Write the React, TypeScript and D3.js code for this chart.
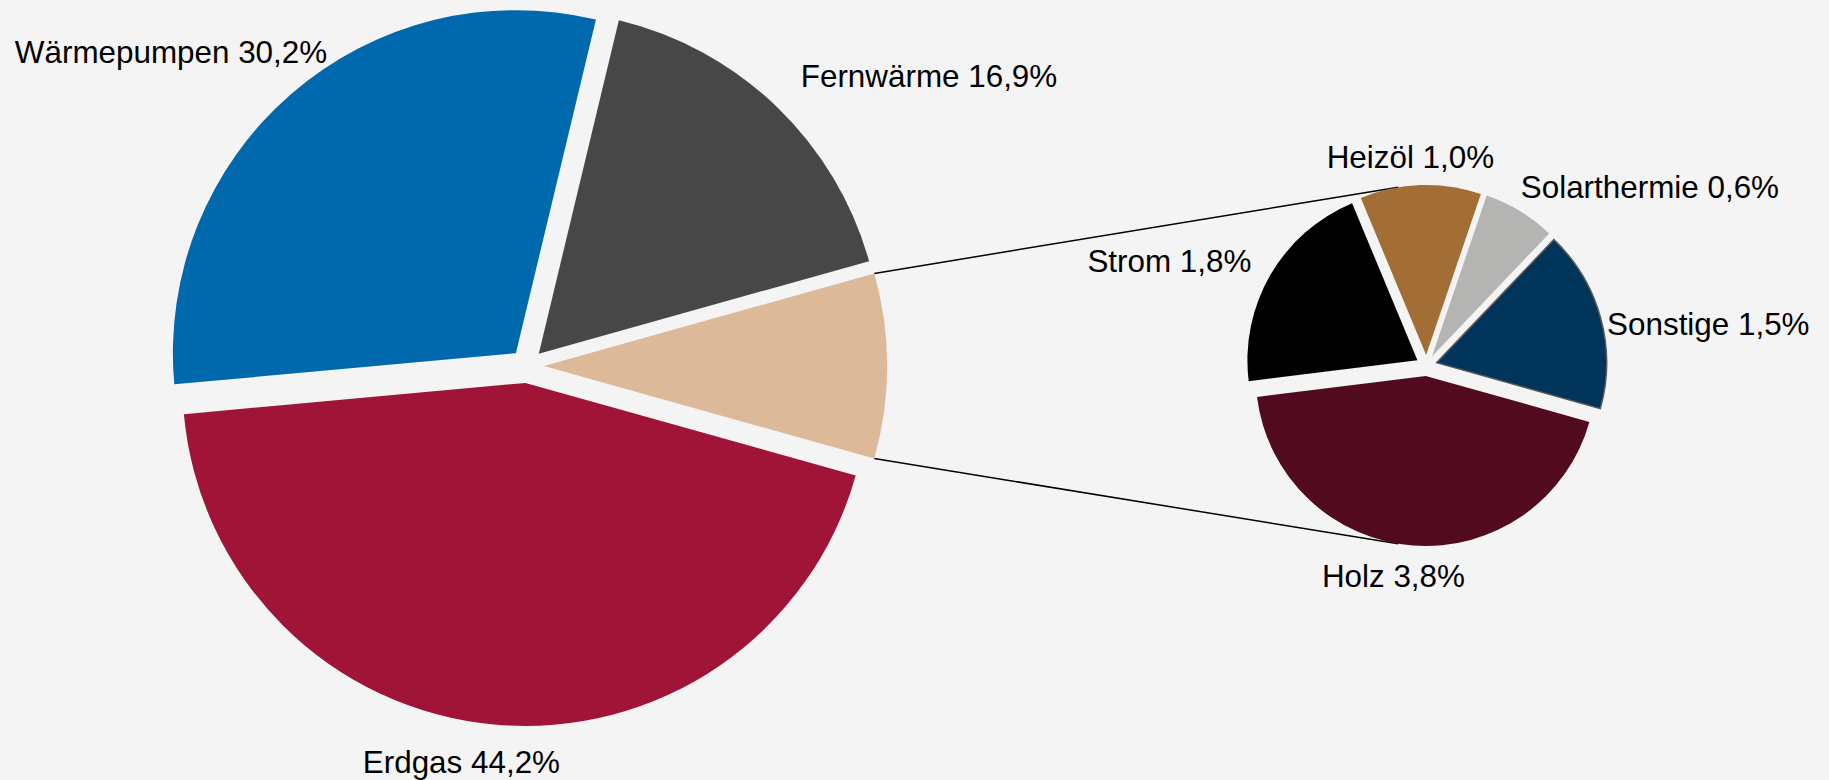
import React, { useEffect } from "react";
import * as d3 from "d3";

// ---- Data ----
const mainCategories = ["Weitere", "Erdgas", "Wärmepumpen", "Fernwärme"];
const mainValues = [8.7, 44.2, 30.2, 16.9];
const mainLabels = ["", "Erdgas 44,2%", "Wärmepumpen 30,2%", "Fernwärme 16,9%"];
const mainColors = ["#DCB998", "#A01437", "#0068AD", "#464746"];

const subCategories = ["Heizöl", "Solarthermie", "Sonstige", "Holz", "Strom"];
const subValues = [1.0, 0.6, 1.5, 3.8, 1.8];
const subLabels = ["Heizöl 1,0%", "Solarthermie 0,6%", "Sonstige 1,5%", "Holz 3,8%", "Strom 1,8%"];
const subColors = ["#A26E35", "#B4B5B3", "#00345A", "#520B1E", "#000000"];

// ---- Layout ----
const W = 1829;
const H = 780;
const BG = "#F4F4F4";
const FONT = "'Liberation Sans', Arial, Helvetica, sans-serif";
const FONT_SIZE = 31.4;

const main = { cx: 527, cy: 366, r: 343, explode: 17 };
const sub = { cx: 1426.5, cy: 365.5, r: 170, explode: 10.5 };

const deg = Math.PI / 180;
// label offsets relative to pie centre (text centre x, baseline y)
const mainLabelOffsets: [number, number][] = [
  [0, 0],
  [-65.6, 406.7],
  [-356, -303],
  [402, -279.3],
];
const subLabelOffsets: [number, number][] = [
  [-16.1, -197.2],
  [223.4, -167.2],
  [281.8, -30.5],
  [-33.1, 221.2],
  [-257.1, -93.8],
];

type Slice = { path: string; tx: number; ty: number; color: string; label: string };

function buildSlices(
  values: number[],
  colors: string[],
  labels: string[],
  startDeg: number,
  r: number,
  explode: number
) {
  const pie = d3
    .pie<number>()
    .sort(null)
    .value((v) => v)
    .startAngle(startDeg * deg)
    .endAngle(startDeg * deg + 2 * Math.PI);
  const arcs = pie(values);
  const arcGen = d3.arc<d3.PieArcDatum<number>>().innerRadius(0).outerRadius(r);
  return arcs.map((a, i) => {
    const mid = (a.startAngle + a.endAngle) / 2;
    return {
      path: arcGen(a) as string,
      tx: explode * Math.sin(mid),
      ty: -explode * Math.cos(mid),
      color: colors[i],
      label: labels[i],
      start: a.startAngle,
      end: a.endAngle,
    };
  });
}

export default function App() {
  useEffect(() => {
    document.body.style.margin = "0";
    document.body.style.background = BG;
  }, []);

  const otherShare = mainValues[0] / d3.sum(mainValues);
  const mainStart = 90 - (otherShare * 360) / 2;
  const mainSlices = buildSlices(mainValues, mainColors, mainLabels, mainStart, main.r, main.explode);
  const subSlices = buildSlices(subValues, subColors, subLabels, -22.6, sub.r, sub.explode);

  // connector start points: edges of the "Weitere" slice
  const other = mainSlices[0];
  const p1 = [
    main.cx + other.tx + main.r * Math.sin(other.start),
    main.cy + other.ty - main.r * Math.cos(other.start),
  ];
  const p2 = [
    main.cx + other.tx + main.r * Math.sin(other.end),
    main.cy + other.ty - main.r * Math.cos(other.end),
  ];
  const subR = sub.r + sub.explode;
  const q1 = [sub.cx + subR * Math.sin(-9 * deg), sub.cy - subR * Math.cos(-9 * deg)];
  const q2 = [sub.cx + subR * Math.sin(189 * deg), sub.cy - subR * Math.cos(189 * deg)];

  return (
    <svg
      width={W}
      height={H}
      style={{ display: "block", position: "absolute", left: 0, top: 0, background: BG }}
      fontFamily={FONT}
    >
      <rect x={0} y={0} width={W} height={H} fill={BG} />
      <line x1={p1[0]} y1={p1[1]} x2={q1[0]} y2={q1[1]} stroke="#000" strokeWidth={1.5} />
      <line x1={p2[0]} y1={p2[1]} x2={q2[0]} y2={q2[1]} stroke="#000" strokeWidth={1.5} />
      <g transform={`translate(${main.cx},${main.cy})`}>
        {mainSlices.map((s, i) => (
          <path key={mainCategories[i]} d={s.path} transform={`translate(${s.tx},${s.ty})`} fill={s.color} />
        ))}
        {mainSlices.map((s, i) =>
          s.label ? (
            <text
              key={"l" + i}
              x={mainLabelOffsets[i][0]}
              y={mainLabelOffsets[i][1]}
              textAnchor="middle"
              fontSize={FONT_SIZE}
              fill="#000"
            >
              {s.label}
            </text>
          ) : null
        )}
      </g>
      <g transform={`translate(${sub.cx},${sub.cy})`}>
        {subSlices.map((s, i) => (
          <path
            key={subCategories[i]}
            d={s.path}
            transform={`translate(${s.tx},${s.ty})`}
            fill={s.color}
            stroke={subCategories[i] === "Sonstige" ? "#5a5a5a" : "none"}
            strokeWidth={subCategories[i] === "Sonstige" ? 1.5 : 0}
          />
        ))}
        {subSlices.map((s, i) => (
          <text
            key={"l" + i}
            x={subLabelOffsets[i][0]}
            y={subLabelOffsets[i][1]}
            textAnchor="middle"
            fontSize={FONT_SIZE}
            fill="#000"
          >
            {s.label}
          </text>
        ))}
      </g>
    </svg>
  );
}
